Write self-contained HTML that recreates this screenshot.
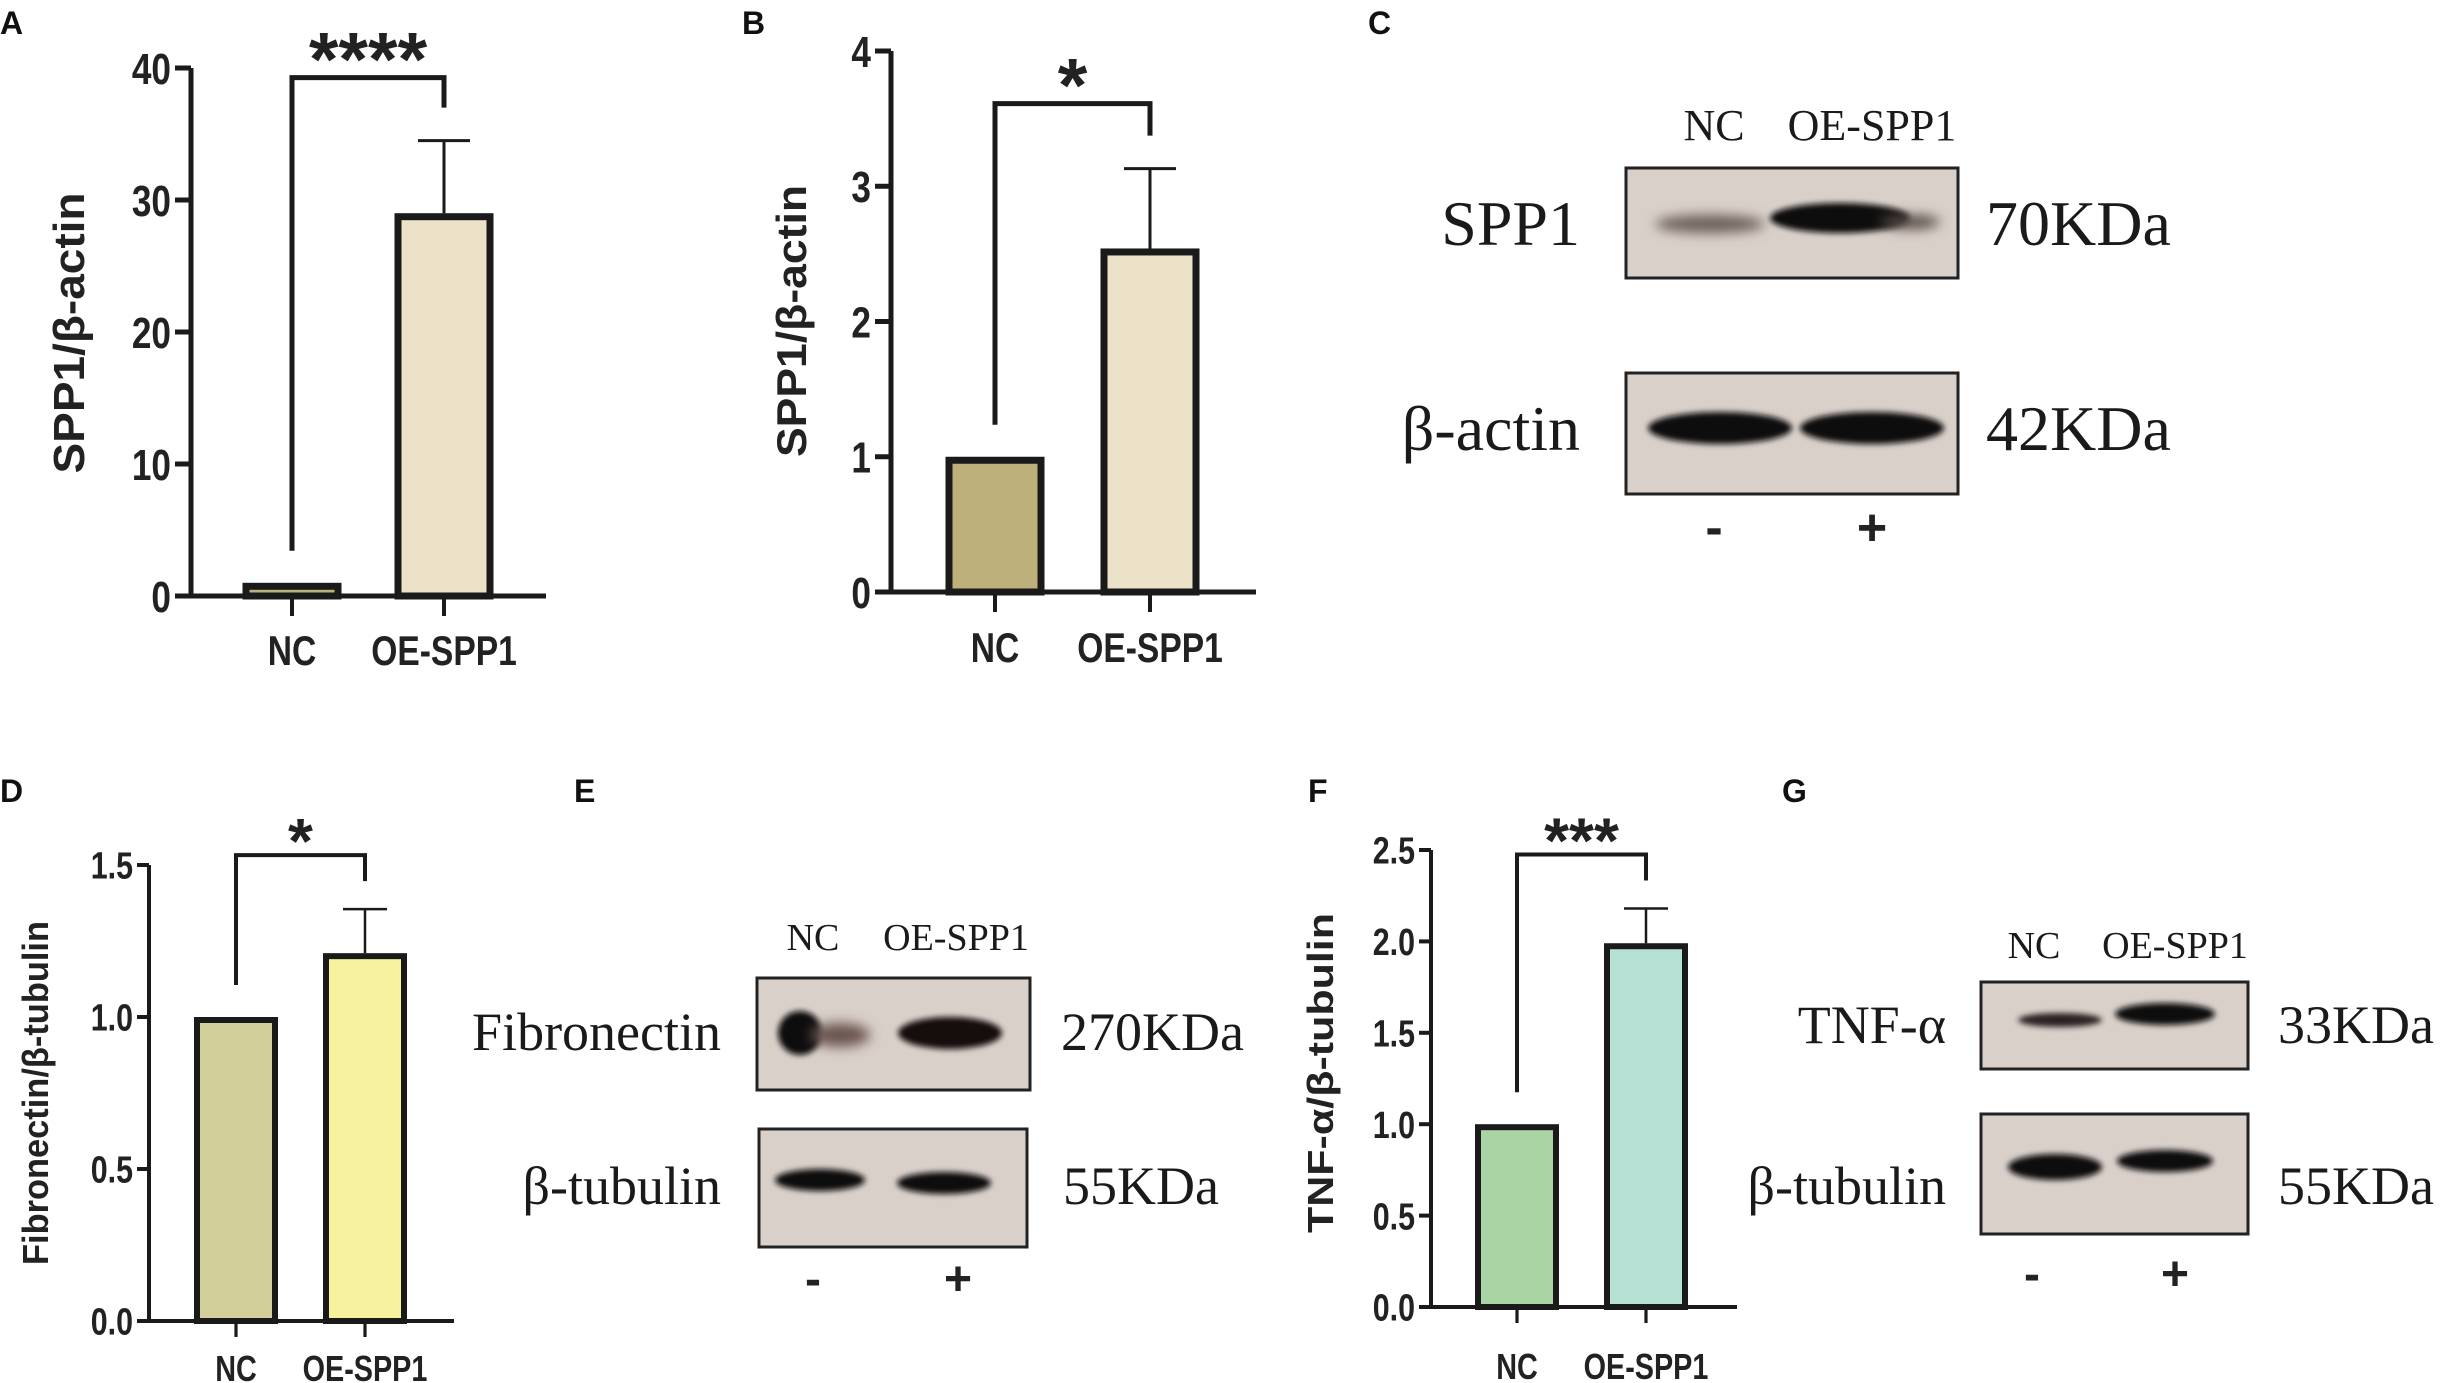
<!DOCTYPE html>
<html><head><meta charset="utf-8"><style>
html,body{margin:0;padding:0;background:#fff}
svg{display:block}
.tk{font-family:"Liberation Sans Narrow","Liberation Sans",sans-serif;font-weight:bold;fill:#222}
.yt{font-family:"Liberation Sans",sans-serif;font-weight:bold;fill:#222}
.pl{font-family:"Liberation Sans",sans-serif;font-weight:bold;fill:#111;font-size:32px}
.sf{font-family:"Liberation Serif",serif;fill:#1a1a1a}
</style></head><body>
<svg id="fig" width="2450" height="1383" viewBox="0 0 2450 1383" xmlns="http://www.w3.org/2000/svg">
<defs>
<filter id="bl" x="-30%" y="-100%" width="160%" height="300%"><feGaussianBlur stdDeviation="6"/></filter>
<filter id="bl2" x="-30%" y="-100%" width="160%" height="300%"><feGaussianBlur stdDeviation="3"/></filter>
</defs>
<text class="pl" x="0" y="34">A</text>
<text class="pl" x="742" y="34">B</text>
<text class="pl" x="1368" y="34">C</text>
<text class="pl" x="0" y="802">D</text>
<text class="pl" x="574" y="802">E</text>
<text class="pl" x="1308" y="802">F</text>
<text class="pl" x="1782" y="802">G</text>

<!-- Panel C blot -->
<g>
<text class="sf" x="1714" y="140" font-size="44" text-anchor="middle">NC</text>
<text class="sf" x="1872" y="140" font-size="44" text-anchor="middle">OE-SPP1</text>
<rect x="1626" y="168" width="332" height="110" fill="#dad0ca" stroke="#222" stroke-width="3"/>
<ellipse cx="1710" cy="224" rx="55" ry="9" fill="#6a5e58" filter="url(#bl)"/>
<ellipse cx="1840" cy="218" rx="70" ry="15" fill="#111" filter="url(#bl2)"/>
<ellipse cx="1910" cy="222" rx="30" ry="7" fill="#554a45" filter="url(#bl)"/>
<rect x="1626" y="373" width="332" height="121" fill="#dad0ca" stroke="#222" stroke-width="3"/>
<ellipse cx="1720" cy="428" rx="72" ry="16" fill="#111" filter="url(#bl2)"/>
<ellipse cx="1872" cy="428" rx="72" ry="16" fill="#111" filter="url(#bl2)"/>
<text class="sf" x="1580" y="245" font-size="64" text-anchor="end">SPP1</text>
<text class="sf" x="1580" y="450" font-size="64" text-anchor="end">β-actin</text>
<text class="sf" x="1986" y="245" font-size="64">70KDa</text>
<text class="sf" x="1986" y="450" font-size="64">42KDa</text>
<text class="tk" x="1714" y="545" font-size="52" text-anchor="middle">-</text>
<text class="tk" x="1872" y="545" font-size="52" text-anchor="middle">+</text>
</g>

<!-- Panel E blot -->
<g>
<text class="sf" x="813" y="950" font-size="38" text-anchor="middle">NC</text>
<text class="sf" x="956" y="950" font-size="38" text-anchor="middle">OE-SPP1</text>
<rect x="757" y="978" width="273" height="112" fill="#dad0ca" stroke="#222" stroke-width="3"/>
<ellipse cx="800" cy="1033" rx="22" ry="22" fill="#0a0a0a" filter="url(#bl2)"/>
<ellipse cx="840" cy="1035" rx="30" ry="12" fill="#6a5550" filter="url(#bl)"/>
<ellipse cx="950" cy="1033" rx="52" ry="16" fill="#151010" filter="url(#bl2)"/>
<rect x="759" y="1129" width="268" height="118" fill="#dad0ca" stroke="#222" stroke-width="3"/>
<ellipse cx="820" cy="1180" rx="45" ry="11" fill="#111" filter="url(#bl2)"/>
<ellipse cx="944" cy="1183" rx="47" ry="11" fill="#111" filter="url(#bl2)"/>
<text class="sf" x="721" y="1050" font-size="54" text-anchor="end">Fibronectin</text>
<text class="sf" x="721" y="1204" font-size="54" text-anchor="end">β-tubulin</text>
<text class="sf" x="1061" y="1050" font-size="54">270KDa</text>
<text class="sf" x="1063" y="1204" font-size="54">55KDa</text>
<text class="tk" x="813" y="1295" font-size="48" text-anchor="middle">-</text>
<text class="tk" x="958" y="1295" font-size="48" text-anchor="middle">+</text>
</g>

<!-- Panel G blot -->
<g>
<text class="sf" x="2034" y="958" font-size="38" text-anchor="middle">NC</text>
<text class="sf" x="2175" y="958" font-size="38" text-anchor="middle">OE-SPP1</text>
<rect x="1981" y="982" width="267" height="87" fill="#dad0ca" stroke="#222" stroke-width="3"/>
<ellipse cx="2060" cy="1020" rx="42" ry="7" fill="#2a2020" filter="url(#bl2)"/>
<ellipse cx="2165" cy="1014" rx="50" ry="11" fill="#0a0a0a" filter="url(#bl2)"/>
<rect x="1981" y="1114" width="267" height="120" fill="#dad0ca" stroke="#222" stroke-width="3"/>
<ellipse cx="2055" cy="1167" rx="47" ry="13" fill="#0a0a0a" filter="url(#bl2)"/>
<ellipse cx="2165" cy="1161" rx="48" ry="11" fill="#111" filter="url(#bl2)"/>
<text class="sf" x="1946" y="1043" font-size="54" text-anchor="end">TNF-α</text>
<text class="sf" x="1946" y="1204" font-size="54" text-anchor="end">β-tubulin</text>
<text class="sf" x="2278" y="1043" font-size="54">33KDa</text>
<text class="sf" x="2278" y="1204" font-size="54">55KDa</text>
<text class="tk" x="2032" y="1290" font-size="48" text-anchor="middle">-</text>
<text class="tk" x="2175" y="1290" font-size="48" text-anchor="middle">+</text>
</g>
</svg>
<script>
// ---- data ----
const categories = ["NC", "OE-SPP1"];
const valuesA = [1.0, 29.0];
const errorsA = [0, 5.5];
const ticksA = [0, 10, 20, 30, 40];
const tickLabelsA = ["0", "10", "20", "30", "40"];
const valuesB = [1.0, 2.54];
const errorsB = [0, 0.59];
const ticksB = [0, 1, 2, 3, 4];
const tickLabelsB = ["0", "1", "2", "3", "4"];
const valuesD = [1.0, 1.21];
const errorsD = [0, 0.145];
const ticksD = [0, 0.5, 1.0, 1.5];
const tickLabelsD = ["0.0", "0.5", "1.0", "1.5"];
const valuesF = [1.0, 1.99];
const errorsF = [0, 0.19];
const ticksF = [0, 0.5, 1.0, 1.5, 2.0, 2.5];
const tickLabelsF = ["0.0", "0.5", "1.0", "1.5", "2.0", "2.5"];
const starsA = "****", starsB = "*", starsD = "*", starsF = "***";

const NS = "http://www.w3.org/2000/svg";
const svg = document.getElementById('fig');
function mk(tag, attrs, parent) {
  const e = document.createElementNS(NS, tag);
  for (const k in attrs) e.setAttribute(k, attrs[k]);
  (parent || svg).appendChild(e);
  return e;
}
function chart(id, L, values, errors, ticks, tickLabels, stars, title, colors) {
  const g = mk('g', {});
  
  
  const maxV = ticks[ticks.length - 1];
  const y = v => L.y0 - (v / maxV) * (L.y0 - L.yTop);
  const x = i => L.x0 + i * L.step;
  const sw = L.sw;
  values.forEach((v, i) => {
    const r = mk('rect', {x: x(i) - L.bw / 2, y: y(v) + sw / 2, width: L.bw, height: Math.max(0, L.y0 - y(v) - sw / 2),
      fill: colors[i], stroke: '#1a1a1a', 'stroke-width': sw}, g);
    
    
    if (errors[i] > 0) {
      const top = y(v + errors[i]);
      const e = mk('path', {d: `M${x(i)} ${y(v)}V${top}M${x(i) - L.cap} ${top}H${x(i) + L.cap}`, stroke: '#1a1a1a', 'stroke-width': L.ew, fill: 'none'}, g);
      
      
    }
  });
  const ax = mk('path', {d: `M${L.ax} ${L.yTop}V${L.y0}H${L.xEnd}`, stroke: '#1a1a1a', 'stroke-width': L.aw, fill: 'none'}, g);
  
  
  ticks.forEach((t, k) => {
    mk('line', {x1: L.ax - L.tl, x2: L.ax, y1: y(t), y2: y(t), stroke: '#1a1a1a', 'stroke-width': L.aw}, g);
    const tx = mk('text', {x: 0, y: 0, 'font-size': L.tf, 'text-anchor': 'end', class: 'tk',
      transform: `translate(${L.ax - L.tl - 4},${y(t) + L.tf * 0.36}) scale(0.8,1)`}, g);
    tx.textContent = tickLabels[k];
    
    
  });
  categories.forEach((c, i) => {
    mk('line', {x1: x(i), x2: x(i), y1: L.y0, y2: L.y0 + L.tl + 4, stroke: '#1a1a1a', 'stroke-width': L.aw * 0.8}, g);
    const tx = mk('text', {x: 0, y: 0, 'font-size': L.cf, 'text-anchor': 'middle', class: 'tk',
      transform: `translate(${x(i)},${L.catY}) scale(0.8,1)`}, g);
    tx.textContent = c;
    
    
  });
  const yt = mk('text', {x: 0, y: 0, 'font-size': L.yf, 'text-anchor': 'middle', class: 'yt',
    textLength: L.yl, lengthAdjust: 'spacingAndGlyphs',
    transform: `translate(${L.ytx},${L.yty}) rotate(-90)`}, g);
  yt.textContent = title;
  
  
  const bY = y(values[1] + errors[1]) - L.bo;
  const br = mk('path', {d: `M${x(0)} ${y(values[0]) - 32}V${bY}H${x(1)}V${y(values[1] + errors[1]) - L.bo2}`, stroke: '#1a1a1a', 'stroke-width': L.bw2, fill: 'none'}, g);
  
  
  const st = mk('text', {x: (x(0) + x(1)) / 2, y: bY + 8, 'font-size': L.sf, 'text-anchor': 'middle', class: 'yt'}, g);
  st.textContent = stars;
  
  
}
chart('a', {ax:191, y0:596, yTop:68, xEnd:546, x0:292, step:152, bw:92, sw:7, ew:3, cap:26, aw:5, tl:16, tf:44, cf:42, catY:665, yf:44, yl:281, ytx:84, yty:333, bo:63, bo2:33, bw2:5, sf:76},
  valuesA, errorsA, ticksA, tickLabelsA, starsA, "SPP1/β-actin", ["#bdb07a", "#ebe2c8"]);
chart('b', {ax:891, y0:592, yTop:51, xEnd:1256, x0:995, step:155, bw:92, sw:7, ew:3, cap:26, aw:5, tl:16, tf:44, cf:42, catY:662, yf:42, yl:272, ytx:806, yty:321, bo:65, bo2:33, bw2:5, sf:76},
  valuesB, errorsB, ticksB, tickLabelsB, starsB, "SPP1/β-actin", ["#bdb07a", "#ebe2c8"]);
chart('d', {ax:149, y0:1321, yTop:865, xEnd:454, x0:236, step:129, bw:78, sw:6, ew:2.5, cap:22, aw:4, tl:12, tf:38, cf:36, catY:1381, yf:36, yl:344, ytx:48, yty:1093, bo:54, bo2:28, bw2:4, sf:64},
  valuesD, errorsD, ticksD, tickLabelsD, starsD, "Fibronectin/β-tubulin", ["#d3cf9a", "#f6f29e"]);
chart('f', {ax:1431, y0:1307, yTop:850, xEnd:1737, x0:1517, step:129, bw:78, sw:6, ew:2.5, cap:22, aw:4, tl:12, tf:38, cf:36, catY:1379, yf:36, yl:320, ytx:1333, yty:1073, bo:54, bo2:28, bw2:4, sf:64},
  valuesF, errorsF, ticksF, tickLabelsF, starsF, "TNF-α/β-tubulin", ["#a8d5a3", "#b6e0d3"]);
</script>
</body></html>
